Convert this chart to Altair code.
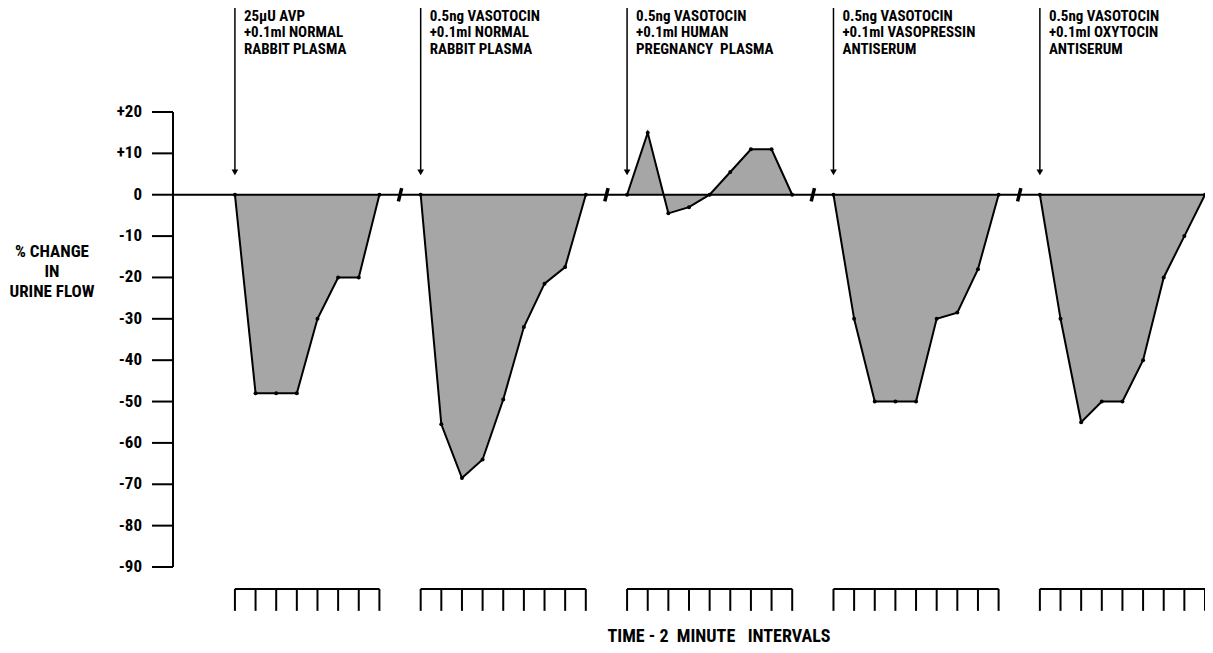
import altair as alt
import pandas as pd

FONT = "Roboto Condensed, Liberation Sans Narrow, Roboto, sans-serif"

# ---- data (time in 2-minute intervals, % change) ----
t1 = [3, 4, 5, 6, 7, 8, 9, 10]
v1 = [0, -48, -48, -48, -30, -20, -20, 0]
t2 = [12, 13, 14, 15, 16, 17, 18, 19, 20]
v2 = [0, -55.5, -68.5, -64, -49.5, -32, -21.5, -17.5, 0]
t3 = [22, 23, 24, 25, 26, 27, 28, 29, 30]
v3 = [0, 15, -4.5, -3, 0, 5.5, 11, 11, 0]
t4 = [32, 33, 34, 35, 36, 37, 38, 39, 40]
v4 = [0, -30, -50, -50, -50, -30, -28.5, -18, 0]
t5 = [42, 43, 44, 45, 46, 47, 48, 49, 50]
v5 = [0, -30, -55, -50, -50, -40, -20, -10, 0]

injection_times = [3, 12, 22, 32, 42]
annotations = [
    "25\u03bcU AVP\n+0.1ml NORMAL\nRABBIT PLASMA",
    "0.5ng VASOTOCIN\n+0.1ml NORMAL\nRABBIT PLASMA",
    "0.5ng VASOTOCIN\n+0.1ml HUMAN\nPREGNANCY\u00a0\u00a0PLASMA",
    "0.5ng VASOTOCIN\n+0.1ml VASOPRESSIN\nANTISERUM",
    "0.5ng VASOTOCIN\n+0.1ml OXYTOCIN\nANTISERUM",
]
break_times = [11, 21, 31, 41]
box_start = [3, 12, 22, 32, 42]
box_end = [10, 20, 30, 40, 50]
y_ticks = [-90, -80, -70, -60, -50, -40, -30, -20, -10, 0, 10, 20]
y_title = "% CHANGE\nIN\nURINE FLOW"
x_title = "TIME\u00a0-\u00a02\u00a0\u00a0MINUTE\u00a0\u00a0\u00a0INTERVALS"

# ---- tables ----
rows = []
for p, (ts, vs) in enumerate([(t1, v1), (t2, v2), (t3, v3), (t4, v4), (t5, v5)]):
    for t, v in zip(ts, vs):
        rows.append({"panel": p, "t": t, "v": v})
df = pd.DataFrame(rows)

df_inj = pd.DataFrame({"t": injection_times, "label": annotations})
df_brk = pd.DataFrame({"t": break_times})
df_box = pd.DataFrame({"start": box_start, "end": box_end})
tick_rows = []
for s, e in zip(box_start, box_end):
    for t in range(s, e + 1):
        tick_rows.append({"t": t})
df_ticks = pd.DataFrame(tick_rows)
df_yt = pd.DataFrame({"tick": y_ticks})
df_one = pd.DataFrame({"ytitle": [y_title], "xtitle": [x_title]})

xscale = alt.Scale(domain=[0, 50], nice=False, zero=False)
yscale = alt.Scale(domain=[-90, 20], nice=False, zero=False)

x_plain = alt.X("t:Q", scale=xscale, axis=None)
y_plain = alt.Y("v:Q", scale=yscale, axis=None)

area = (
    alt.Chart(df)
    .transform_calculate(base="0")
    .mark_area(color="#a6a6a6", opacity=1, line=False)
    .encode(x=x_plain, y=y_plain, y2="base:Q", detail="panel:N")
)
outline = alt.Chart(df).mark_line(color="black", strokeWidth=2).encode(
    x=x_plain, y=y_plain, detail="panel:N", order="t:Q"
)
dots = alt.Chart(df).mark_point(filled=True, color="black", size=16, opacity=1).encode(
    x=x_plain, y=y_plain
)
zero_line = alt.Chart(df_one).mark_rule(color="black", strokeWidth=2).encode(
    x=alt.XDatum(0, scale=xscale, axis=None), x2=alt.datum(50),
    y=alt.YDatum(0, scale=yscale, axis=None)
)
breaks = (
    alt.Chart(df_brk)
    .transform_calculate(a="datum.t - 0.08", b="datum.t + 0.08")
    .mark_rule(color="black", strokeWidth=3.5)
    .encode(x=alt.X("a:Q", scale=xscale, axis=None), x2="b:Q",
            y=alt.YDatum(-1.6, scale=yscale, axis=None), y2=alt.datum(1.6))
)
arrow_shaft = alt.Chart(df_inj).mark_rule(color="black", strokeWidth=1.5).encode(
    x=x_plain, y=alt.YDatum(45.5, scale=yscale, axis=None), y2=alt.datum(6)
)
arrow_head = alt.Chart(df_inj).mark_point(
    shape="triangle-down", filled=True, color="black", size=45, opacity=1
).encode(x=x_plain, y=alt.YDatum(5.4, scale=yscale, axis=None))
labels = alt.Chart(df_inj).mark_text(
    align="left", baseline="alphabetic", dx=9, lineBreak="\n", lineHeight=16.7,
    font=FONT, fontSize=15, fontWeight="bold", color="black"
).encode(x=x_plain, y=alt.YDatum(42.1, scale=yscale, axis=None), text="label:N")

box_top = alt.Chart(df_box).mark_rule(color="black", strokeWidth=2).encode(
    x=alt.X("start:Q", scale=xscale, axis=None), x2="end:Q",
    y=alt.YDatum(-95.3, scale=yscale, axis=None)
)
box_ticks = alt.Chart(df_ticks).mark_rule(color="black", strokeWidth=2).encode(
    x=x_plain, y=alt.YDatum(-95.3, scale=yscale, axis=None), y2=alt.datum(-100.6)
)

# ---- y axis drawn with the y scale ----
y_domain = alt.Chart(df_one).mark_rule(color="black", strokeWidth=2).encode(
    x=alt.XDatum(0, scale=xscale, axis=None),
    y=alt.YDatum(-90, scale=yscale, axis=None), y2=alt.datum(20)
)
y_tick_marks = alt.Chart(df_yt).mark_rule(color="black", strokeWidth=2).encode(
    x=alt.value(-21), x2=alt.value(0),
    y=alt.Y("tick:Q", scale=yscale, axis=None)
)
y_tick_labels = (
    alt.Chart(df_yt)
    .transform_calculate(lab="datum.tick > 0 ? '+' + datum.tick : '' + datum.tick")
    .mark_text(align="right", baseline="middle", font=FONT, fontSize=17,
               fontWeight="bold", color="black")
    .encode(x=alt.value(-31), y=alt.Y("tick:Q", scale=yscale, axis=None), text="lab:N")
)
y_title_text = alt.Chart(df_one).mark_text(
    align="center", baseline="alphabetic", lineBreak="\n", lineHeight=20,
    font=FONT, fontSize=17, fontWeight="bold", color="black"
).encode(x=alt.value(-121), y=alt.value(145), text="ytitle:N")
x_title_text = alt.Chart(df_one).mark_text(
    align="center", baseline="middle",
    font=FONT, fontSize=18, fontWeight="bold", color="black"
).encode(x=alt.value(546), y=alt.value(525), text="xtitle:N")

chart = (
    alt.layer(area, zero_line, outline, dots, breaks, arrow_shaft, arrow_head,
              labels, box_top, box_ticks, y_domain, y_tick_marks,
              y_tick_labels, y_title_text, x_title_text)
    .properties(width=1032, height=455,
                autosize=alt.AutoSizeParams(type="none"),
                padding={"left": 165, "top": 104, "right": 0, "bottom": 78},
                background="white")
    .configure_view(stroke=None)
)

chart.save("out.html", embed_options={"renderer": "svg", "actions": False})
